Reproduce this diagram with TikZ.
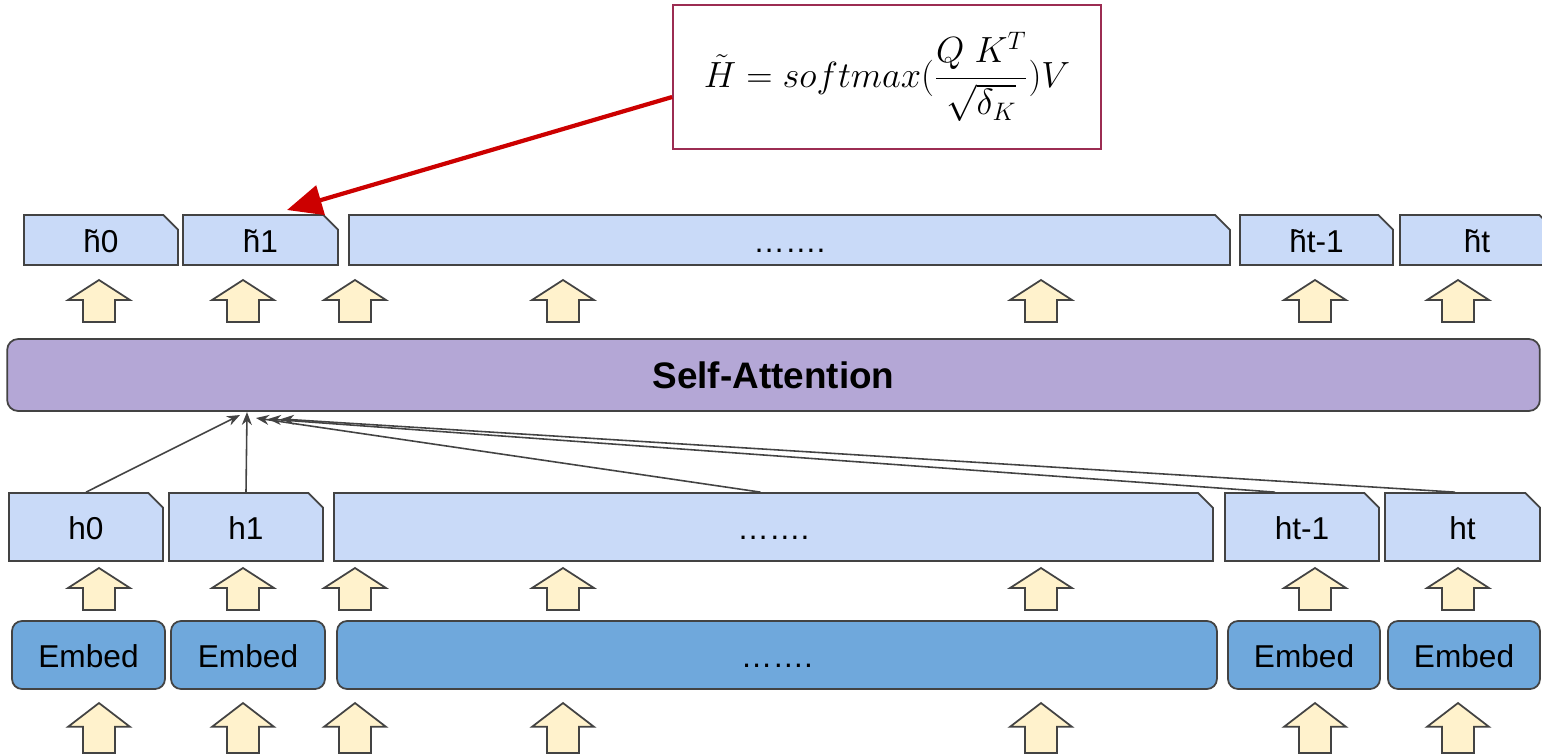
\documentclass[tikz,border=0pt]{standalone}
\usepackage{amsmath}
\usepackage{fontspec}
\setmainfont{Liberation Sans}
\usetikzlibrary{arrows.meta,shapes.misc}
\definecolor{edgegray}{HTML}{434343}
\definecolor{hblue}{HTML}{C9DAF8}
\definecolor{embedblue}{HTML}{6FA8DC}
\definecolor{lavender}{HTML}{B4A7D6}
\definecolor{cream}{HTML}{FFF2CC}
\definecolor{arrowred}{HTML}{CC0000}
\definecolor{eqborder}{HTML}{9C2C52}

\begin{document}
\begin{tikzpicture}[
 x=0.02cm,y=-0.02cm,
 font=\fontsize{18}{22}\selectfont,
 hbox/.style={chamfered rectangle,chamfered rectangle corners=north east,chamfered rectangle xsep=0.17cm,
   draw=edgegray,fill=hblue,line width=1pt,inner sep=0pt,text height=15pt,text depth=0.5pt,minimum height=#1},
 hbox/.default=1.36cm,
 embed/.style={draw=edgegray,fill=embedblue,line width=1pt,rounded corners=0.2cm,inner sep=0pt,
   text height=15pt,text depth=0.5pt,minimum height=1.36cm},
 attn/.style={draw=edgegray,fill=lavender,line width=1pt,rounded corners=0.22cm,inner sep=0pt,
   minimum width=30.66cm,minimum height=1.44cm,font=\fontsize{21}{25}\selectfont\bfseries},
 formula/.style={draw=eqborder,line width=1pt,fill=white,inner sep=0pt,minimum width=8.56cm,minimum height=2.88cm},
 conn/.style={-{Stealth[length=2.6mm,width=2mm]},draw=edgegray,line width=0.9pt},
 redarr/.style={-{Triangle[length=7mm,width=6mm]},draw=arrowred,line width=2.4pt},
 pics/blockup/.style={code={
   \draw[draw=edgegray,fill=cream,line width=1pt,line join=miter]
     (-16,0) -- (16,0) -- (16,-22) -- (31,-22) -- (0,-42) -- (-31,-22) -- (-16,-22) -- cycle;}}
]
\useasboundingbox (0,0) rectangle (1542,755);
\clip (0,0) rectangle (1542,755);

% output states
\node[hbox=1cm,minimum width=3.08cm] (th0) at (101,240) {\~{h}0};
\node[hbox=1cm,minimum width=3.10cm] (th1) at (260.5,240) {\~{h}1};
\node[hbox=1cm,minimum width=17.62cm] (tdots) at (789.5,240) {…….};
\node[hbox=1cm,minimum width=3.06cm] (tht1) at (1316.5,240) {\~{h}t-1};
\node[hbox=1cm,minimum width=3.08cm] (tht) at (1477,240) {\~{h}t};

\node[attn] (sa) at (773.5,375) {Self-Attention};

% hidden states
\node[hbox,minimum width=3.08cm] (h0) at (86,527) {h0};
\node[hbox,minimum width=3.08cm] (h1) at (246,527) {h1};
\node[hbox,minimum width=17.58cm] (hdots) at (773.5,527) {…….};
\node[hbox,minimum width=3.08cm] (ht1) at (1302,527) {ht-1};
\node[hbox,minimum width=3.10cm] (ht) at (1462.5,527) {ht};

% embeddings
\node[embed,minimum width=3.06cm] (e0) at (88.5,655) {Embed};
\node[embed,minimum width=3.08cm] (e1) at (248,655) {Embed};
\node[embed,minimum width=17.60cm] (edots) at (777,655) {…….};
\node[embed,minimum width=3.04cm] (et1) at (1304,655) {Embed};
\node[embed,minimum width=3.04cm] (et) at (1464,655) {Embed};

\foreach \x in {99,243,355,563,1041,1315,1458} {
  \pic at (\x,322) {blockup};
  \pic at (\x,610) {blockup};
  \pic[yscale=1.19] at (\x,753) {blockup};
}

% inputs to self-attention
\coordinate (in0) at (240,415);
\coordinate (in1) at (247,412);
\coordinate (in2) at (256,418);
\coordinate (in3) at (268,419);
\coordinate (in4) at (281,419);
\draw[conn] (h0.north) -- (in0);
\draw[conn] (h1.north) -- (in1);
\draw[conn] ([xshift=-0.26cm]hdots.north) -- (in2);
\draw[conn] ([xshift=-0.54cm]ht1.north) -- (in3);
\draw[conn] ([xshift=-0.15cm]ht.north) -- (in4);

\node[formula] (eq) at (887,77)
  {\fontsize{20}{24}\selectfont$\displaystyle \tilde{H} = softmax(\frac{Q\;K^T}{\sqrt{\delta_K}})V$};
\coordinate (tip) at (287,210);
\draw[redarr] ([yshift=-0.4cm]eq.west) -- (tip);
\end{tikzpicture}
\end{document}
